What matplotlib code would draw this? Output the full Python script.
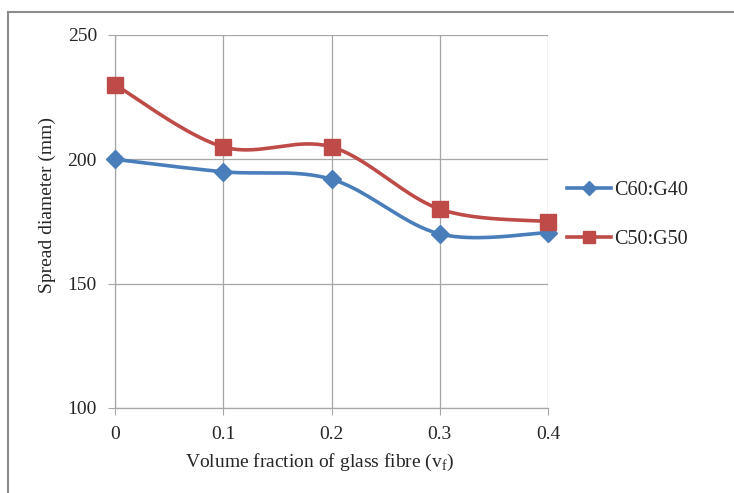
import numpy as np
import matplotlib.pyplot as plt
from matplotlib.lines import Line2D

# values
vf = [0, 0.1, 0.2, 0.3, 0.4]
c60_g40 = [200, 195, 192, 170, 170.5]
c50_g50 = [230, 205, 205, 180, 175]
labels = ['C60:G40', 'C50:G50']
colors = ['#4A7EBB', '#BE4B48']
markers = ['D', 's']

plt.rcParams['font.family'] = ['Liberation Serif', 'DejaVu Serif']


def smooth(x, y, n=40):
    # Excel style smoothed line: cubic bezier with catmull-rom control points
    x = np.asarray(x, float)
    y = np.asarray(y, float)
    px = np.concatenate([[x[0]], x, [x[-1]]])
    py = np.concatenate([[y[0]], y, [y[-1]]])
    xs, ys = [], []
    t = np.linspace(0, 1, n)
    for i in range(1, len(px) - 2):
        p0 = np.array([px[i], py[i]])
        p3 = np.array([px[i + 1], py[i + 1]])
        p1 = p0 + (np.array([px[i + 1], py[i + 1]]) - np.array([px[i - 1], py[i - 1]])) / 6
        p2 = p3 - (np.array([px[i + 2], py[i + 2]]) - np.array([px[i], py[i]])) / 6
        b = ((1 - t) ** 3)[:, None] * p0 + (3 * (1 - t) ** 2 * t)[:, None] * p1 \
            + (3 * (1 - t) * t ** 2)[:, None] * p2 + (t ** 3)[:, None] * p3
        xs.extend(b[:, 0])
        ys.extend(b[:, 1])
    return xs, ys


fig = plt.figure(figsize=(7.34, 4.93), dpi=100)
ax = fig.add_axes([115 / 734, 1 - 408 / 493, (548 - 115) / 734, (408 - 35) / 493])

for ys, c, m in zip([c60_g40, c50_g50], colors, markers):
    sx, sy = smooth(vf, ys)
    ax.plot(sx, sy, color=c, lw=2.6, zorder=3, solid_capstyle='round')
    ax.plot(vf, ys, ls='none', marker=m, color=c,
            markersize=11 if m == 's' else 9, zorder=4, clip_on=False)

ax.set_xlim(0, 0.4)
ax.set_ylim(100, 250)
ax.set_xticks(vf)
ax.set_xticklabels(['0', '0.1', '0.2', '0.3', '0.4'])
ax.set_yticks([100, 150, 200, 250])
ax.grid(True, color='#A6A6A6', lw=0.9)
ax.set_axisbelow(True)
for s in ['top', 'right']:
    ax.spines[s].set_visible(False)
for s in ['left', 'bottom']:
    ax.spines[s].set_color('#A6A6A6')
    ax.spines[s].set_linewidth(0.9)
ax.tick_params(direction='out', length=5, color='#A6A6A6', labelsize=14,
               labelcolor='#262626', pad=8)
ax.set_xlabel('Volume fraction of glass fibre (v$_\\mathregular{f}$)', fontsize=14,
              color='#262626')
ax.set_ylabel('Spread diameter (mm)', fontsize=14, color='#262626')
ax.xaxis.set_label_coords((320 - 115) / 433, (408 - 462) / 373)
ax.yaxis.set_label_coords((47 - 115) / 433, (408 - 205) / 373)
ax.xaxis.label.set_va('center')
ax.yaxis.label.set_va('center')

handles = [Line2D([], [], color=c, lw=2.6, marker=m, markersize=8 if m == 's' else 7)
           for c, m in zip(colors, markers)]
leg = fig.legend(handles, labels, loc='center left',
                 bbox_to_anchor=(567 / 734, 1 - 215 / 493), frameon=False,
                 fontsize=14.5, labelspacing=1.45, handlelength=2.2, handletextpad=0.15,
                 borderaxespad=0, borderpad=0)
for t in leg.get_texts():
    t.set_color('#262626')

# outer frame of the figure
fig.add_artist(Line2D([8 / 734, 733 / 734], [1 - 12 / 493, 1 - 12 / 493],
                      color='#8C8C8C', lw=1.5))
fig.add_artist(Line2D([8 / 734, 8 / 734], [1 - 12 / 493, 0],
                      color='#8C8C8C', lw=1.5))

fig.savefig('out.png', dpi=100)
